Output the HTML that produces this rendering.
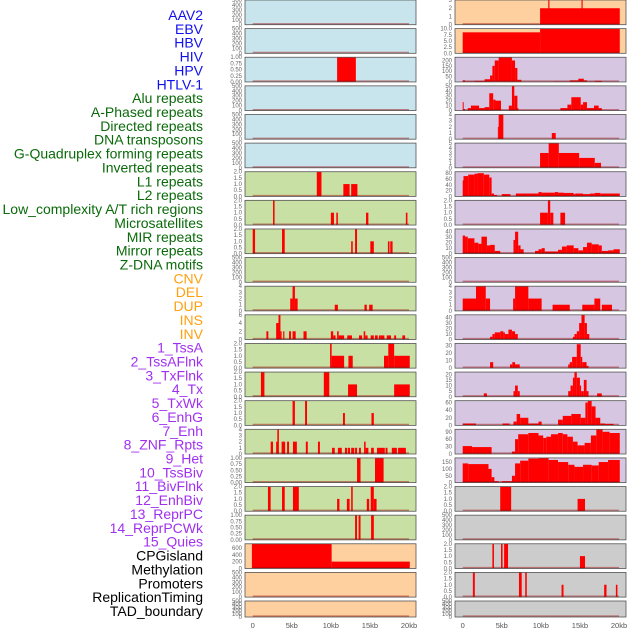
<!DOCTYPE html>
<html><head><meta charset="utf-8">
<style>
body{margin:0;background:#fff;width:630px;height:630px;overflow:hidden;font-family:"Liberation Sans",sans-serif}
svg{display:block}
</style></head>
<body>
<svg id="chart" width="630" height="630" viewBox="0 0 630 630" xmlns="http://www.w3.org/2000/svg"></svg>
<script>
// ---------- data ----------
const trackLabels = ["AAV2","EBV","HBV","HIV","HPV","HTLV-1","Alu repeats","A-Phased repeats","Directed repeats","DNA transposons","G-Quadruplex forming repeats","Inverted repeats","L1 repeats","L2 repeats","Low_complexity A/T rich regions","Microsatellites","MIR repeats","Mirror repeats","Z-DNA motifs","CNV","DEL","DUP","INS","INV","1_TssA","2_TssAFlnk","3_TxFlnk","4_Tx","5_TxWk","6_EnhG","7_Enh","8_ZNF_Rpts","9_Het","10_TssBiv","11_BivFlnk","12_EnhBiv","13_ReprPC","14_ReprPCWk","15_Quies","CPGisland","Methylation","Promoters","ReplicationTiming","TAD_boundary"];
const labelGroups = ["v","v","v","v","v","v","r","r","r","r","r","r","r","r","r","r","r","r","r","s","s","s","s","s","c","c","c","c","c","c","c","c","c","c","c","c","c","c","c","o","o","o","o","o"];
const xTickValues = [0,5,10,15,20];
const xTickLabels = ["0","5kb","10kb","15kb","20kb"];

const t500 = [0,100,200,300,400,500];
const t1 = [0,0.25,0.5,0.75,1];
const t2 = [0,0.5,1,1.5,2];

// each segment: [startKb, endKb, value]
const r1L = [];
const r1R = [[9.9,20.1,2],[10.95,11.1,3],[15.2,15.35,3]];
const r2L = [];
const r2R = [[0,9.9,8.5],[9.9,20.1,10]];
const r3L = [[10.8,13.2,1]];
const r3R = [[0,0.3,15],[0.3,1.5,6],[1.5,2.8,10],[2.8,3.5,25],[3.5,3.8,60],[3.8,4.1,150],[4.1,4.6,200],[4.6,6.3,230],[6.3,6.7,200],[6.7,7.0,130],[7.0,7.5,20],[11.6,13.7,5],[13.7,14.8,15],[14.8,15.5,30],[15.5,15.9,15],[15.9,16.9,5],[16.9,17.8,10]];
const r4L = [];
const r4R = [[0,0.1,17],[0.1,0.3,3],[0.65,1.05,5],[1.05,2.1,10],[2.1,2.8,5],[2.8,3.4,7],[3.4,3.9,35],[3.9,4.2,22],[4.2,4.9,20],[5.9,6.3,10],[6.3,6.6,50],[6.6,7.0,30],[7.0,7.1,5],[12.5,13.4,5],[13.4,13.9,12],[13.9,15.1,27],[15.1,15.4,12],[15.4,15.9,17],[15.9,16.8,5],[16.8,17.4,10],[17.4,17.8,5]];
const r5L = [];
const r5R = [[4.5,4.6,2],[4.6,5.2,4],[11.4,11.9,1]];
const r6L = [];
const r6R = [[9.9,11.0,3],[11.0,12.3,5],[12.3,14.9,3],[14.9,16.9,2],[16.9,17.7,1]];
const r7L = [[8.2,8.8,2],[11.6,12.4,1],[12.6,13.4,1]];
const r7R = [[0,0.1,55],[0.1,0.7,70],[0.7,1.5,75],[1.5,1.9,78],[1.9,2.7,80],[2.7,3.4,75],[3.4,3.7,65],[3.7,4.0,10],[4.0,4.4,5],[5.0,6.1,8],[6.8,9.7,10],[9.7,10.1,15],[10.1,11.8,13],[11.8,12.2,15],[12.2,12.9,13],[12.9,14.2,12],[14.2,14.4,8],[14.4,15.4,10],[15.4,16.3,8],[16.3,16.9,10],[16.9,17.6,12],[17.6,18.4,10],[18.4,20.1,10]];
const r8L = [[2.6,2.8,2],[10.0,10.4,1],[10.7,10.9,1],[14.5,14.8,1],[19.6,19.8,1]];
const r8R = [[9.9,10.9,1],[10.9,11.2,2],[11.2,11.6,1],[12.5,13.1,1]];
const r9L = [[0,0.3,2],[3.75,4.1,2],[12.6,12.8,1],[13.1,13.35,2],[15.05,15.5,1],[17.3,17.5,1],[17.6,17.9,1]];
const r9R = [[0,0.3,33],[0.3,0.65,31],[0.65,1.5,28],[1.5,2.0,20],[2.0,2.4,18],[2.4,3.1,31],[3.1,3.5,15],[3.5,4.1,16],[4.1,4.8,5],[6.5,6.7,25],[6.7,7.1,40],[7.1,7.4,15],[7.4,7.8,8],[9.25,9.7,5],[9.7,10.1,8],[10.1,10.5,10],[10.5,12.2,4],[12.2,12.7,7],[12.7,13.3,13],[13.3,14.2,15],[14.2,14.8,10],[14.8,15.4,6],[15.4,15.9,12],[15.9,16.5,20],[16.5,17.4,17],[17.4,17.8,15],[17.8,18.6,5],[18.6,19.3,6],[19.3,20.1,8]];
const r10L = [];
const r10R = [];
const r11L = [[4.8,5.1,2],[5.1,5.4,4],[5.4,5.75,2],[10.5,10.9,1],[14.3,14.6,1],[14.9,15.35,1]];
const r11R = [[0,1.7,2],[1.7,2.95,4],[2.95,3.5,2],[6.45,6.7,2],[6.7,8.4,4],[8.4,10.1,2],[11.5,13.7,1],[15.3,16.85,1],[16.85,17.6,2],[17.8,19.1,1]];
const r12L = [[1.75,2.0,2],[3.0,3.3,4],[3.3,3.55,6],[3.55,3.7,2],[3.9,4.05,2],[4.65,4.9,2],[5.1,5.5,2],[6.5,6.9,2],[10.0,10.3,2],[10.3,10.6,1],[10.8,11.0,2],[11.0,11.7,1],[12.1,12.7,1],[13.6,14.0,1],[14.2,14.4,2],[14.4,14.7,1],[15.1,15.5,1],[15.65,16.0,1],[16.15,16.4,1],[16.4,16.85,1],[17.15,17.7,1],[18.1,18.35,1],[19.15,19.5,1]];
const r12R = [[3.5,3.8,5],[3.8,4.1,10],[4.1,4.8,13],[4.8,5.2,15],[5.2,5.4,13],[5.4,5.85,10],[5.85,6.3,18],[6.3,6.7,15],[6.7,7.05,10],[14.1,14.3,5],[14.3,14.6,10],[14.6,14.9,15],[14.9,15.2,30],[15.2,15.6,45],[15.6,15.9,30],[15.9,16.2,10]];
const r13L = [[9.9,10.1,2],[10.1,11.7,1],[12.25,12.8,1],[16.8,17.35,1],[17.35,18.1,2],[18.1,20.1,1]];
const r13R = [[3.5,3.9,8],[6.05,6.35,5],[6.35,6.7,8],[6.7,7.3,5],[13.5,13.7,5],[13.7,14.0,8],[14.0,14.6,15],[14.6,15.1,32],[15.1,15.3,15],[15.3,15.85,8],[15.85,16.1,3]];
const r14L = [[1.05,1.5,2],[9.1,9.8,2],[12.2,13.35,1],[18.1,20.1,1]];
const r14R = [[2.7,3.1,3],[6.5,6.7,5],[6.7,7.05,10],[7.05,7.3,5],[13.5,13.8,5],[13.8,14.1,10],[14.1,14.3,17],[14.3,14.6,22],[14.6,15.0,17],[15.0,15.15,10],[15.15,15.5,5],[15.5,15.85,15],[15.85,16.1,5],[17.2,17.8,3]];
const r15L = [[5.1,5.4,2],[6.7,6.95,2],[11.55,11.8,1],[15.2,15.5,1]];
const r15R = [[0,1.7,5],[5.1,6.0,5],[6.5,6.9,10],[6.9,7.35,30],[7.35,8.4,20],[8.4,9.7,5],[9.7,10.1,10],[12.2,12.8,15],[12.8,13.9,25],[13.9,15.1,30],[15.1,15.7,20],[15.7,16.0,60],[16.0,16.5,65],[16.5,17.0,50],[17.0,17.6,20],[17.6,18.2,5],[18.2,19.3,4]];
const r16L = [[2.3,2.6,2],[3.0,3.2,2],[3.15,3.35,4],[3.7,4.15,2],[4.4,4.65,2],[5.15,5.65,2],[6.8,7.05,2],[8.35,8.6,2],[10.15,10.5,1],[10.9,11.4,1],[11.8,12.1,1],[12.2,12.45,1],[12.6,13.0,1],[13.1,13.35,1],[13.6,13.85,1],[14.25,14.45,2],[14.45,14.8,1],[15.15,15.5,1],[15.9,16.9,1],[17.0,17.25,1],[17.8,18.45,1],[18.6,19.6,1]];
const r16R = [[0,1.2,32],[1.2,3.7,28],[6.3,6.7,10],[6.7,7.1,60],[7.1,8.4,80],[8.4,9.7,85],[9.7,10.3,75],[10.3,10.7,65],[10.7,11.3,70],[11.3,12.2,80],[12.2,12.8,85],[12.8,13.4,80],[13.4,14.1,70],[14.1,14.7,50],[14.7,15.6,35],[15.6,16.4,45],[16.4,17.1,75],[17.1,17.9,100],[17.9,18.8,90],[18.8,20.1,85]];
const r17L = [[13.35,13.8,1],[15.65,16.75,1]];
const r17R = [[0,0.7,140],[0.7,3.3,135],[3.3,3.7,100],[3.7,4.05,40],[4.05,4.6,10],[5.0,6.3,10],[6.3,6.7,50],[6.7,7.35,140],[7.35,8.4,160],[8.4,9.7,175],[9.7,11.0,180],[11.0,12.2,165],[12.2,13.5,150],[13.5,14.3,130],[14.3,15.4,115],[15.4,16.5,130],[16.5,17.4,125],[17.4,18.6,150],[18.6,20.1,165]];
const r18L = [[1.95,2.3,2],[3.75,4.1,2],[5.15,5.9,2],[10.8,11.1,1],[12.05,12.4,1],[12.6,12.8,2],[14.6,14.9,1],[15.1,15.5,2],[15.5,15.85,1]];
const r18R = [[4.8,6.2,2],[14.7,15.65,1]];
const r19L = [[13.1,13.35,1],[13.55,13.8,1],[15.15,15.5,1]];
const r19R = [];
const r20L = [[-0.1,10.1,720],[10.1,20.1,200]];
const r20R = [[3.8,4.0,2],[4.9,5.1,2],[5.3,5.8,2],[15.0,15.65,1]];
const r21L = [];
const r21R = [[1.3,1.55,2],[7.2,7.55,2],[8.0,8.2,2],[12.65,12.9,1],[18.1,18.4,1],[19.6,19.8,1]];
const r22L = [];
const r22R = [];

const leftYMax = [500,500,1,500,500,500,2,2,2,500,4,6,2,2,2,4,1,2,1,720,500,500];
const rightYMax = [3,10,230,50,4,5,85,2,45,500,4,45,33,22,65,100,180,2,500,2,2,500];
const leftTicks = [t500,t500,t1,t500,t500,t500,t2,t2,t2,t500,[0,1,2,3,4],[0,2,4,6],t2,t2,t2,[0,1,2,3,4],t1,t2,t1,[0,200,400,600],t500,t500];
const rightTicks = [[0,1,2,3],[0,2.5,5,7.5,10],[0,50,100,150,200],[0,10,20,30,40,50],[0,1,2,3,4],[0,1,2,3,4,5],[0,20,40,60,80],t2,[0,10,20,30,40],t500,[0,1,2,3,4],[0,10,20,30,40],[0,10,20,30],[0,5,10,15,20],[0,20,40,60],[0,30,60,90],[0,50,100,150],t2,t500,t2,t2,t500];
const leftSegs = [r1L,r2L,r3L,r4L,r5L,r6L,r7L,r8L,r9L,r10L,r11L,r12L,r13L,r14L,r15L,r16L,r17L,r18L,r19L,r20L,r21L,r22L];
const rightSegs = [r1R,r2R,r3R,r4R,r5R,r6R,r7R,r8R,r9R,r10R,r11R,r12R,r13R,r14R,r15R,r16R,r17R,r18R,r19R,r20R,r21R,r22R];
const leftBg = ["b","b","b","b","b","b","g","g","g","g","g","g","g","g","g","g","g","g","g","o","o","o"];
const rightBg = ["o","o","p","p","p","p","p","p","p","p","p","p","p","p","p","p","p","e","e","e","e","e"];

// ---------- drawing ----------
const NS = "http://www.w3.org/2000/svg";
const svg = document.getElementById("chart");
const bgColors = {b:"#c8e4ec",g:"#c8e0a4",o:"#fed0a0",p:"#d6c6e2",e:"#cccccc"};
const labelColors = {v:"#1010ee",r:"#0a6a0a",s:"#ffa010",c:"#a030f0",o:"#000000"};
function mk(tag, attrs){const e=document.createElementNS(NS,tag);for(const k in attrs)e.setAttribute(k,attrs[k]);return e;}

// labels
trackLabels.forEach((t,i)=>{
  const el = mk("text",{x:203,y:15+i*13.86+5,"text-anchor":"end","font-size":"14",fill:labelColors[labelGroups[i]],"font-family":"Liberation Sans, DejaVu Sans, sans-serif"});
  el.textContent = t;
  
  
  svg.appendChild(el);
});

const cols = [{x0:245,x1:416,d0:252.7},{x0:455,x1:626,d0:462.7}];
const kbScale = (409-252.7)/20;
function xScale(col, kb){return cols[col].d0 + kb*kbScale;}
function rowTop(r){return r<21 ? r*28.62 : 601;}
function rowH(r){return r<21 ? 24.7 : 16;}

function drawPanel(col, r, segs, ymax, ticks, bg){
  const top=rowTop(r), h=rowH(r), x0=cols[col].x0, x1=cols[col].x1;
  const g = mk("g",{});
  
  
  svg.appendChild(g);
  const bot = top+h;
  const yScale = v => bot - (v/ymax)*h;
  g.appendChild(mk("rect",{x:x0,y:top,width:x1-x0,height:h,fill:bgColors[bg]}));
  segs.forEach(s=>{
    const xa=Math.max(x0,xScale(col,s[0])), xb=Math.min(x1,xScale(col,s[1]));
    const y=yScale(Math.min(s[2],ymax));
    const b = mk("rect",{x:xa,y:y,width:Math.max(1,xb-xa),height:bot-y,fill:"#ff0000"});
    
    
    g.appendChild(b);
  });
  // baseline
  g.appendChild(mk("line",{x1:xScale(col,0),x2:xScale(col,20),y1:bot-0.8,y2:bot-0.8,stroke:"rgba(160,0,0,0.45)","stroke-width":1.6}));
  g.appendChild(mk("rect",{x:x0,y:top,width:x1-x0,height:h,fill:"none",stroke:"#555","stroke-width":0.8}));
  // ticks
  ticks.forEach(t=>{
    const tl = mk("text",{x:x0-3,y:yScale(t)+2,"text-anchor":"end","font-size":"6",fill:"#666"});
    tl.textContent = (ticks===t1) ? t.toFixed(2) : (ticks===t2 || ticks===rightTicks[1]) ? t.toFixed(1) : String(t);
    
    
    g.appendChild(tl);
  });
}

for(let r=0;r<22;r++){
  drawPanel(0,r,leftSegs[r],leftYMax[r],leftTicks[r],leftBg[r]);
  drawPanel(1,r,rightSegs[r],rightYMax[r],rightTicks[r],rightBg[r]);
}

// x axes
[0,1].forEach(c=>{
  xTickValues.forEach((v,i)=>{
    const t = mk("text",{x:xScale(c,v),y:628,"text-anchor":"middle","font-size":"7.5",fill:"#555"});
    t.textContent = xTickLabels[i];
    
    
    svg.appendChild(t);
  });
});
</script>
</body></html>
